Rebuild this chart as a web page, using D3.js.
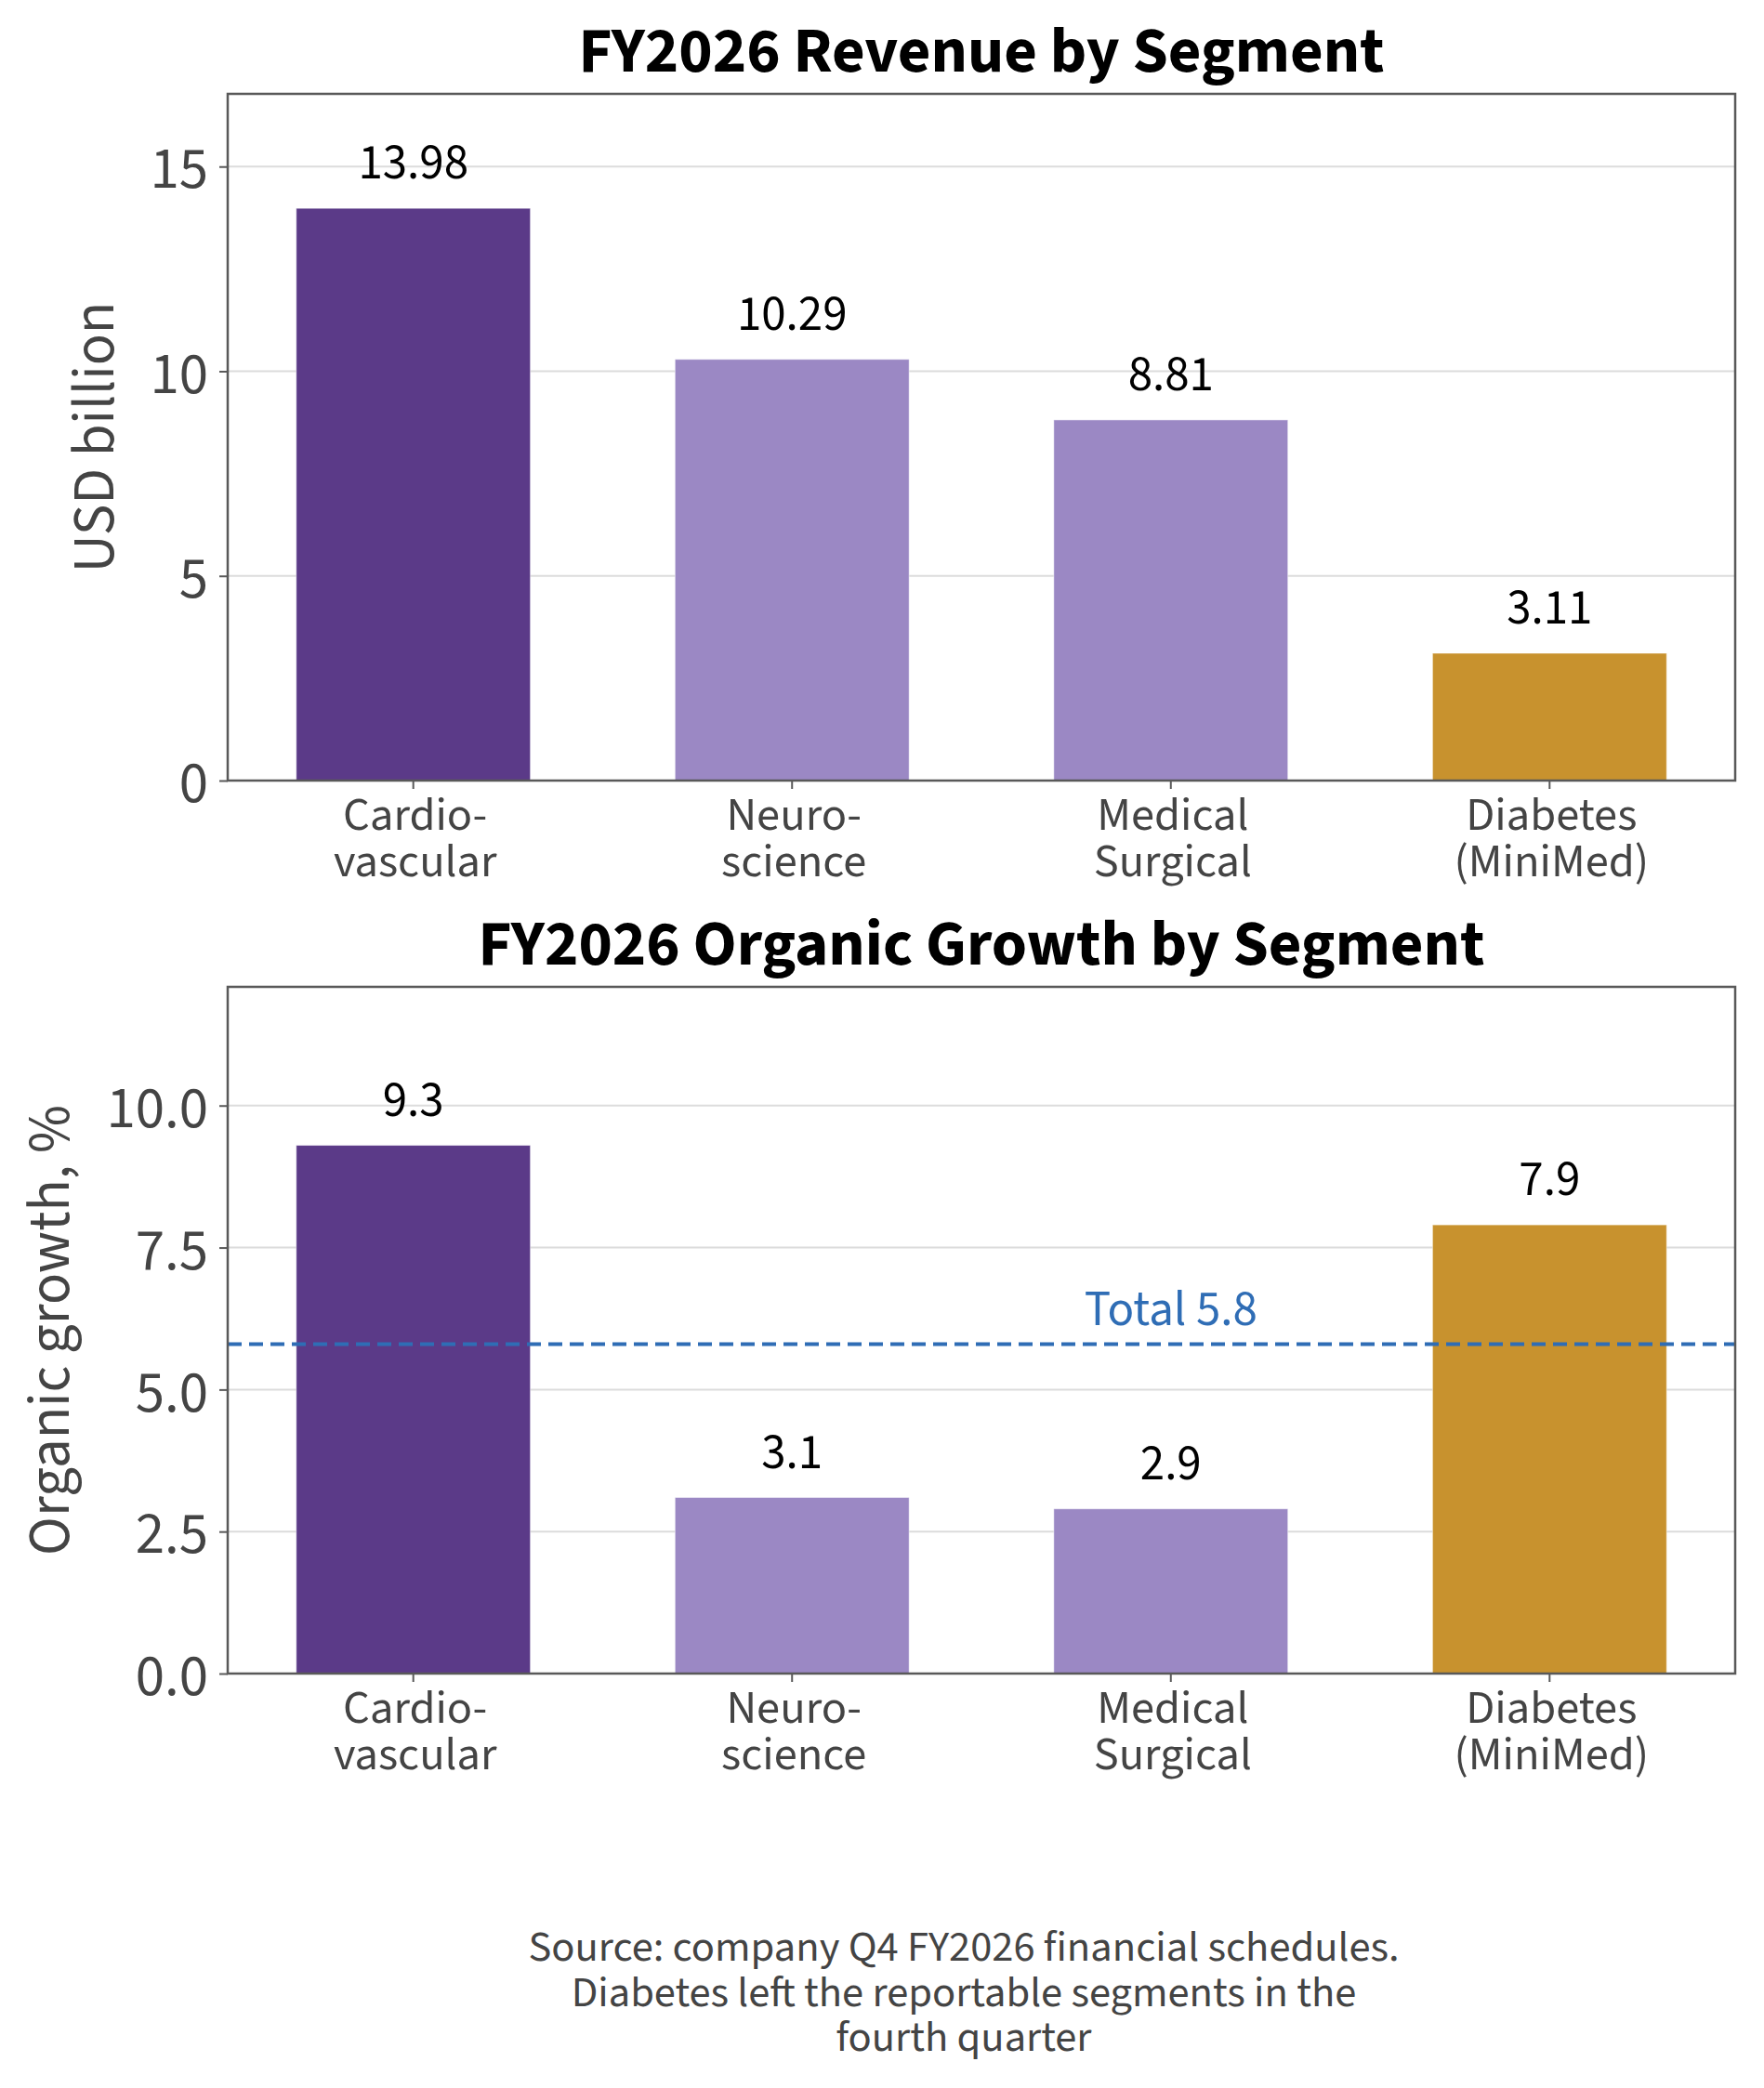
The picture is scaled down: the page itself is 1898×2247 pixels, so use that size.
<!DOCTYPE html>
<html>
<head>
<meta charset="utf-8">
<script src="https://cdn.jsdelivr.net/npm/d3@7"></script>
<style>
  body { margin: 0; background: #fff; }
  text { font-family: "Source Sans 3", "Source Sans Pro", Lato, "Noto Sans", sans-serif; }
</style>
</head>
<body>
<div id="chart"></div>
<script>
// data
var segments = ["Cardiovascular", "Neuroscience", "Medical Surgical", "Diabetes (MiniMed)"];
var segmentLines = [["Cardio-", "vascular"], ["Neuro-", "science"], ["Medical", "Surgical"], ["Diabetes", "(MiniMed)"]];
var revenue = [13.98, 10.29, 8.81, 3.11];
var growth = [9.3, 3.1, 2.9, 7.9];
var totalGrowth = 5.8;
var revenueTicks = [0, 5, 10, 15];
var growthTicks = [0, 2.5, 5, 7.5, 10];
var sourceLines = ["Source: company Q4 FY2026 financial schedules.",
                   "Diabetes left the reportable segments in the",
                   "fourth quarter"];

// styling
var barColor = d3.scaleOrdinal()
	.domain(segments)
	.range(["#5b3a88", "#9b88c4", "#9b88c4", "#c8922e"]);
var totalColor = "#2f6db5";
var frameColor = "#595959";
var gridColor = "#dcdcdc";
var textGray = "#444";

var W = 1898, H = 2247;
var plotLeft = 245, plotRight = 1867;

var svg = d3.select("#chart")
	.append("svg")
		.attr("width", W)
		.attr("height", H)
		.style("background", "#fff");

var xScale = d3.scaleBand()
	.domain(segments)
	.range([plotLeft, plotRight])
	.paddingInner(0.382)
	.paddingOuter(0.181)
	.align(0.5);

function drawPanel(cfg) {
	var g = svg.append("g");
	var top = cfg.top, bottom = cfg.top + 739;

	var yScale = d3.scaleLinear()
		.domain([0, cfg.yMax])
		.range([bottom, top]);

	//gridlines
	g.selectAll("line.grid")
		.data(cfg.ticks)
		.enter()
		.append("line")
			.attr("class", "grid")
			.attr("x1", plotLeft)
			.attr("x2", plotRight)
			.attr("y1", function(d) { return yScale(d); })
			.attr("y2", function(d) { return yScale(d); })
			.attr("stroke", gridColor)
			.attr("stroke-width", 2);

	//bars
	g.selectAll("rect.bar")
		.data(cfg.values)
		.enter()
		.append("rect")
			.attr("class", "bar")
			.attr("x", function(d, i) { return xScale(segments[i]); })
			.attr("width", xScale.bandwidth())
			.attr("y", function(d) { return yScale(d); })
			.attr("height", function(d) { return yScale(0) - yScale(d); })
			.attr("fill", function(d, i) { return barColor(segments[i]); })
			.attr("stroke", "#fff")
			.attr("stroke-opacity", 0.5)
			.attr("stroke-width", 1);

	//value labels
	g.selectAll("text.val")
		.data(cfg.values)
		.enter()
		.append("text")
			.attr("class", "val")
			.attr("x", function(d, i) { return xScale(segments[i]) + xScale.bandwidth() / 2; })
			.attr("y", function(d) { return yScale(d) - 32; })
			.attr("text-anchor", "middle")
			.attr("font-size", 53)
			.attr("fill", "#000")
			.text(function(d) { return d3.format(cfg.fmt)(d); });

	//reference line
	if (cfg.refValue != null) {
		g.append("line")
			.attr("x1", plotLeft)
			.attr("x2", plotRight)
			.attr("y1", yScale(cfg.refValue))
			.attr("y2", yScale(cfg.refValue))
			.attr("stroke", totalColor)
			.attr("stroke-width", 4)
			.attr("stroke-dasharray", "15,8");
		g.append("text")
			.attr("x", xScale(segments[2]) + xScale.bandwidth() / 2)
			.attr("y", yScale(cfg.refValue) - 20)
			.attr("text-anchor", "middle")
			.attr("font-size", 53)
			.attr("fill", totalColor)
			.text("Total " + d3.format(".1f")(cfg.refValue));
	}

	//y axis
	var yAxis = g.append("g")
		.attr("transform", "translate(" + plotLeft + ",0)")
		.call(d3.axisLeft(yScale).tickValues(cfg.ticks).tickSize(9).tickPadding(12).tickFormat(d3.format(cfg.tickFmt)));
	yAxis.select(".domain").remove();
	yAxis.selectAll("line").attr("stroke", frameColor).attr("stroke-width", 2);
	yAxis.selectAll("text")
		.attr("font-size", 63)
		.attr("fill", textGray)
		.attr("dy", "0.36em");

	//x axis
	var xAxis = g.append("g")
		.attr("transform", "translate(0," + bottom + ")")
		.call(d3.axisBottom(xScale).tickSize(9).tickFormat(""));
	xAxis.select(".domain").remove();
	xAxis.selectAll("line").attr("stroke", frameColor).attr("stroke-width", 2);
	xAxis.selectAll(".tick").each(function(d, i) {
		var t = d3.select(this).append("text")
			.attr("text-anchor", "middle")
			.attr("font-size", 50.5)
			.attr("fill", textGray);
		segmentLines[i].forEach(function(line, k) {
			t.append("tspan")
				.attr("x", 2)
				.attr("y", 53 + k * 50)
				.text(line);
		});
	});

	//frame
	g.append("rect")
		.attr("x", plotLeft)
		.attr("y", top)
		.attr("width", plotRight - plotLeft)
		.attr("height", bottom - top)
		.attr("fill", "none")
		.attr("stroke", frameColor)
		.attr("stroke-width", 2.5);

	//titles
	g.append("text")
		.attr("x", (plotLeft + plotRight) / 2)
		.attr("y", top - 24)
		.attr("text-anchor", "middle")
		.attr("font-size", 69)
		.attr("font-weight", "bold")
		.attr("fill", "#000")
		.text(cfg.title);

	g.append("text")
		.attr("transform", "translate(" + cfg.yTitleX + "," + (top + bottom) / 2 + ") rotate(-90)")
		.attr("text-anchor", "middle")
		.attr("font-size", 63)
		.attr("fill", textGray)
		.text(cfg.yTitle);
}

drawPanel({
	top: 101,
	values: revenue,
	yMax: d3.max(revenue) * 1.2,
	ticks: revenueTicks,
	tickFmt: "d",
	fmt: ".2f",
	title: "FY2026 Revenue by Segment",
	yTitle: "USD billion",
	yTitleX: 122
});

drawPanel({
	top: 1062,
	values: growth,
	yMax: d3.max(growth) * 1.3,
	ticks: growthTicks,
	tickFmt: ".1f",
	fmt: ".1f",
	refValue: totalGrowth,
	title: "FY2026 Organic Growth by Segment",
	yTitle: "Organic growth, %",
	yTitleX: 74
});

//source note
svg.append("text")
	.attr("x", 1037)
	.attr("text-anchor", "middle")
	.attr("font-size", 46.5)
	.attr("fill", textGray)
	.selectAll("tspan")
	.data(sourceLines)
	.enter()
	.append("tspan")
		.attr("x", 1037)
		.attr("y", function(d, i) { return 2110 + i * 48.5; })
		.text(function(d) { return d; });
</script>
</body>
</html>
